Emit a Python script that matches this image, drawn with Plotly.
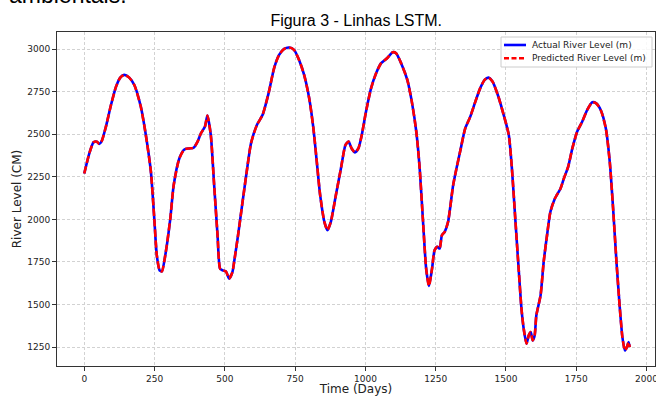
import plotly.graph_objects as go

# ---- data ----
days = [0, 18, 33, 45, 53, 62, 77, 95, 113, 128, 142, 160, 178, 201, 219, 237, 249, 258, 268, 276,
        290, 306, 318, 338, 356, 373, 389, 403, 415, 429, 438, 450, 462, 474, 483, 492, 504, 515, 527, 533,
        547, 563, 581, 593, 614, 634, 657, 675, 693, 711, 729, 746, 764, 782, 800, 815, 827, 839, 854, 865,
        877, 895, 913, 929, 940, 951, 963, 975, 987, 1002, 1020, 1038, 1056, 1077, 1097, 1109, 1127, 1149, 1165, 1181,
        1193, 1205, 1216, 1226, 1237, 1246, 1256, 1264, 1272, 1282, 1294, 1312, 1324, 1337, 1355, 1373, 1391, 1408, 1424, 1438,
        1452, 1471, 1492, 1510, 1521, 1533, 1545, 1555, 1563, 1573, 1581, 1588, 1595, 1602, 1608, 1623, 1634, 1646, 1658, 1674,
        1694, 1706, 1721, 1736, 1753, 1771, 1789, 1807, 1821, 1837, 1855, 1869, 1881, 1893, 1905, 1914, 1923, 1930, 1936, 1940]

actual_level = [2270, 2388, 2453, 2457, 2443, 2460, 2545, 2672, 2780, 2833, 2849, 2833, 2790, 2663, 2496, 2280, 2005, 1789, 1701, 1695,
                1809, 2005, 2201, 2358, 2411, 2417, 2421, 2457, 2506, 2545, 2610, 2496, 2201, 1907, 1711, 1701, 1695, 1652, 1691, 1750,
                1907, 2103, 2319, 2447, 2555, 2613, 2751, 2888, 2967, 3002, 3010, 2996, 2937, 2849, 2712, 2535, 2339, 2143, 1986, 1937,
                1986, 2143, 2300, 2437, 2457, 2417, 2394, 2417, 2496, 2633, 2770, 2859, 2918, 2947, 2982, 2976, 2918, 2820, 2692, 2515,
                2300, 1986, 1711, 1609, 1711, 1819, 1839, 1829, 1907, 1927, 1986, 2201, 2300, 2400, 2535, 2604, 2692, 2770, 2820, 2833,
                2810, 2731, 2613, 2496, 2300, 2005, 1711, 1476, 1358, 1270, 1319, 1338, 1289, 1319, 1437, 1554, 1750, 1907, 2045, 2123,
                2182, 2241, 2309, 2417, 2515, 2574, 2643, 2688, 2682, 2643, 2535, 2339, 2064, 1750, 1476, 1309, 1230, 1250, 1279, 1250]

predicted_level = [2270, 2388, 2453, 2457, 2443, 2460, 2545, 2672, 2780, 2833, 2849, 2833, 2790, 2663, 2496, 2280, 2005, 1789, 1701, 1695,
                   1809, 2005, 2201, 2358, 2411, 2417, 2421, 2457, 2506, 2545, 2610, 2496, 2201, 1907, 1711, 1701, 1695, 1652, 1691, 1750,
                   1907, 2103, 2319, 2447, 2555, 2613, 2751, 2888, 2967, 3002, 3010, 2996, 2937, 2849, 2712, 2535, 2339, 2143, 1986, 1937,
                   1986, 2143, 2300, 2437, 2457, 2417, 2394, 2417, 2496, 2633, 2770, 2859, 2918, 2947, 2982, 2976, 2918, 2820, 2692, 2515,
                   2300, 1986, 1711, 1609, 1711, 1819, 1839, 1829, 1907, 1927, 1986, 2201, 2300, 2400, 2535, 2604, 2692, 2770, 2820, 2833,
                   2810, 2731, 2613, 2496, 2300, 2005, 1711, 1476, 1358, 1270, 1319, 1338, 1289, 1319, 1437, 1554, 1750, 1907, 2045, 2123,
                   2182, 2241, 2309, 2417, 2515, 2574, 2643, 2688, 2682, 2643, 2535, 2339, 2064, 1750, 1476, 1309, 1230, 1250, 1279, 1250]

series_names = ["Actual River Level (m)", "Predicted River Level (m)"]
x_ticks = [0, 250, 500, 750, 1000, 1250, 1500, 1750, 2000]
y_ticks = [1250, 1500, 1750, 2000, 2250, 2500, 2750, 3000]

actual_line = dict(color="#0000ff", width=2.6)
pred_line = dict(color="#ff0000", width=2.6, dash="7.4px,3.2px")

fig = go.Figure()
fig.add_trace(go.Scatter(
    x=days, y=actual_level, mode="lines", name=series_names[0],
    line=dict(shape="spline", smoothing=0.6, **actual_line)))
fig.add_trace(go.Scatter(
    x=days, y=predicted_level, mode="lines", name=series_names[1],
    line=dict(shape="spline", smoothing=0.6, **pred_line)))

axis_common = dict(
    showline=True, linecolor="#333333", linewidth=1, mirror=True,
    ticks="outside", ticklen=4, tickwidth=1, tickcolor="#333333",
    showgrid=True, gridcolor="#d2d2d2", gridwidth=0.8, griddash="3px,2px",
    zeroline=False, ticklabeloverflow="allow",
    tickfont=dict(family="DejaVu Sans", size=9, color="#222222"),
)

fig.update_layout(
    width=656, height=396,
    margin=dict(l=57, r=1, t=32, b=30),
    paper_bgcolor="white", plot_bgcolor="white",
    showlegend=False,
    title=dict(text="Figura 3 - Linhas LSTM.", x=0.543, xanchor="center",
               y=1 - 20 / 396, yanchor="middle",
               font=dict(family="Liberation Sans, Arial", size=16, color="black")),
    xaxis=dict(range=[-97, 2030], tickvals=x_ticks, automargin=False,
               title=dict(text="Time (Days)", standoff=6,
                          font=dict(family="DejaVu Sans", size=12, color="#222222")),
               **axis_common),
    yaxis=dict(range=[1139, 3101], tickvals=y_ticks, automargin=False,
               title=dict(text="River Level (CM)", standoff=3,
                          font=dict(family="DejaVu Sans", size=12, color="#222222")),
               **axis_common),
)

# legend drawn as a compact box (paper coordinates)
fig.add_shape(type="rect", xref="paper", yref="paper",
              x0=0.7425, x1=0.995, y0=0.8952, y1=0.985,
              fillcolor="rgba(255,255,255,0.85)", line=dict(color="#cccccc", width=1),
              layer="above")
for row_y, style, label in [(0.9611, actual_line, series_names[0]),
                            (0.9213, pred_line, series_names[1])]:
    fig.add_shape(type="line", xref="paper", yref="paper",
                  x0=0.7475, x1=0.7843, y0=row_y, y1=row_y,
                  line=dict(color=style["color"], width=style["width"],
                            dash="5px,2.5px" if "dash" in style else "solid"),
                  layer="above")
    fig.add_annotation(text=label, xref="paper", yref="paper",
                       x=0.7921, y=row_y, xanchor="left", yanchor="middle",
                       showarrow=False, borderpad=0,
                       font=dict(family="DejaVu Sans", size=9, color="#222222"))

fig.add_annotation(text="ambientais.", xref="paper", yref="paper",
                   x=-0.0836, y=1.066, xanchor="left", yanchor="bottom",
                   showarrow=False,
                   font=dict(family="Liberation Sans, Arial", size=23, color="black"))

fig.write_html("out.html", config={"displayModeBar": False},
               post_script="document.body.style.margin='0';document.body.style.overflow='hidden';")
